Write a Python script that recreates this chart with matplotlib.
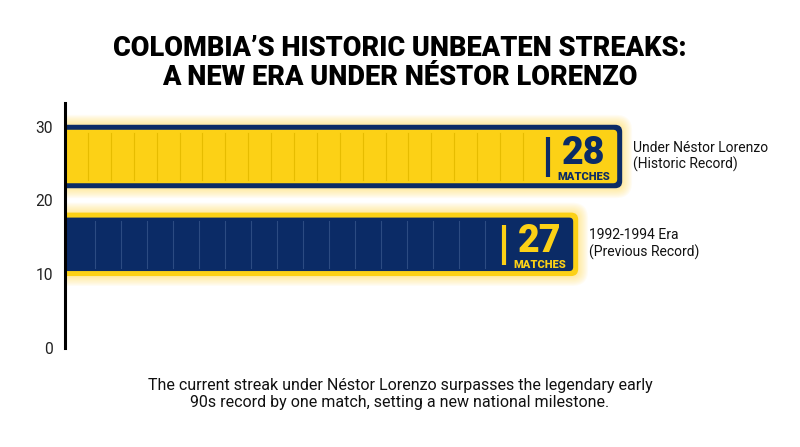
import numpy as np
import matplotlib.pyplot as plt
from matplotlib.patches import FancyBboxPatch

plt.rcParams['font.family'] = ['Roboto', 'DejaVu Sans']

# data
eras = ['Under Néstor Lorenzo\n(Historic Record)', '1992-1994 Era\n(Previous Record)']
streaks = [28, 27]
yticks = [0, 10, 20, 30]

title = "COLOMBIA’S HISTORIC UNBEATEN STREAKS:\nA NEW ERA UNDER NÉSTOR LORENZO"
caption = ("The current streak under Néstor Lorenzo surpasses the legendary early\n"
           "90s record by one match, setting a new national milestone.")

# colours
yellow = '#FCD116'
navy = '#0B2B66'
fills = [yellow, navy]
borders = [navy, yellow]
ticks_col = ['#E6BC00', '#2C4B82']
text_col = [navy, yellow]

W, H = 800, 447
fig = plt.figure(figsize=(W / 100, H / 100), dpi=100)
ax = fig.add_axes([65 / W, 99 / H, 735 / W, 245 / H])
xmin, xmax = 15.34, 32.04
ymin, ymax = 0, 33.2
ax.set_xlim(xmin, xmax)
ax.set_ylim(ymin, ymax)

# pixels per data unit
sx = 735 / (xmax - xmin)
sy = 245 / (ymax - ymin)
aspect = sx / sy

centers = [25.95, 14.05]
bar_h = 8.6


def rbox(x0, x1, y0, y1, rad_px, **kw):
    r = rad_px / sx
    p = FancyBboxPatch((x0 + r, y0 + r * aspect), (x1 - x0) - 2 * r, (y1 - y0) - 2 * r * aspect,
                       boxstyle=f'round,pad={r},rounding_size={r}',
                       mutation_aspect=aspect, **kw)
    ax.add_patch(p)
    return p


for i, (val, yc) in enumerate(zip(streaks, centers)):
    x0 = xmin - 1
    y0, y1 = yc - bar_h / 2, yc + bar_h / 2
    # glow
    for k in range(9, 0, -1):
        g = k * 1.1
        rbox(x0, val + g / sx, y0 - g / sy, y1 + g / sy, 6 + g,
             facecolor='#FFD93B', edgecolor='none', alpha=0.06, zorder=1)
    # border + fill
    rbox(x0, val, y0, y1, 7, facecolor=borders[i], edgecolor='none', zorder=2)
    b = 5
    rbox(x0, val - b / sx, y0 + b / sy, y1 - b / sy, 4, facecolor=fills[i],
         edgecolor='none', zorder=3)

    # segment lines
    div_x = val - 1.68
    step = 0.52 if i == 0 else 0.59
    first = xmin + (23 if i == 0 else 30) / sx
    for xs in np.arange(first, div_x - 0.2, step):
        ax.plot([xs, xs], [y0 + 1.1, y1 - 1.1], color=ticks_col[i], lw=0.8, zorder=4)

    # badge
    ax.plot([div_x, div_x], [yc - 2.8, yc + 2.6], color=text_col[i], lw=3,
            solid_capstyle='butt', zorder=5)
    ax.text(val - 0.87, yc - 1.05, str(val), ha='center', va='baseline',
            fontsize=27, fontweight='black', color=text_col[i], zorder=6)
    ax.text(val - 0.87, yc - 3.25, 'MATCHES', ha='center', va='baseline',
            fontsize=8, fontweight='black', color=text_col[i], zorder=6)

    # label
    ax.text(val + 11 / sx, yc, eras[i], ha='left', va='center', fontsize=10,
            color='#111111', linespacing=1.2, zorder=6)

ax.set_yticks(yticks)
ax.set_yticklabels([str(t) for t in yticks], fontsize=11.2, color='#222222')
ax.set_xticks([])
ax.tick_params(axis='y', length=0, pad=8.5)
for s in ['top', 'right', 'bottom']:
    ax.spines[s].set_visible(False)
ax.spines['left'].set_linewidth(2.2)
ax.spines['left'].set_color('black')
ax.spines['left'].set_zorder(10)

fig.text(0.5, 1 - 63 / H, title, ha='center', va='center', fontsize=19.5,
         fontweight='black', color='black', linespacing=1.05)
fig.text(0.5, 1 - 394 / H, caption, ha='center', va='center', fontsize=11.5,
         color='#111111', linespacing=1.2)

fig.savefig('out.png', dpi=100)
